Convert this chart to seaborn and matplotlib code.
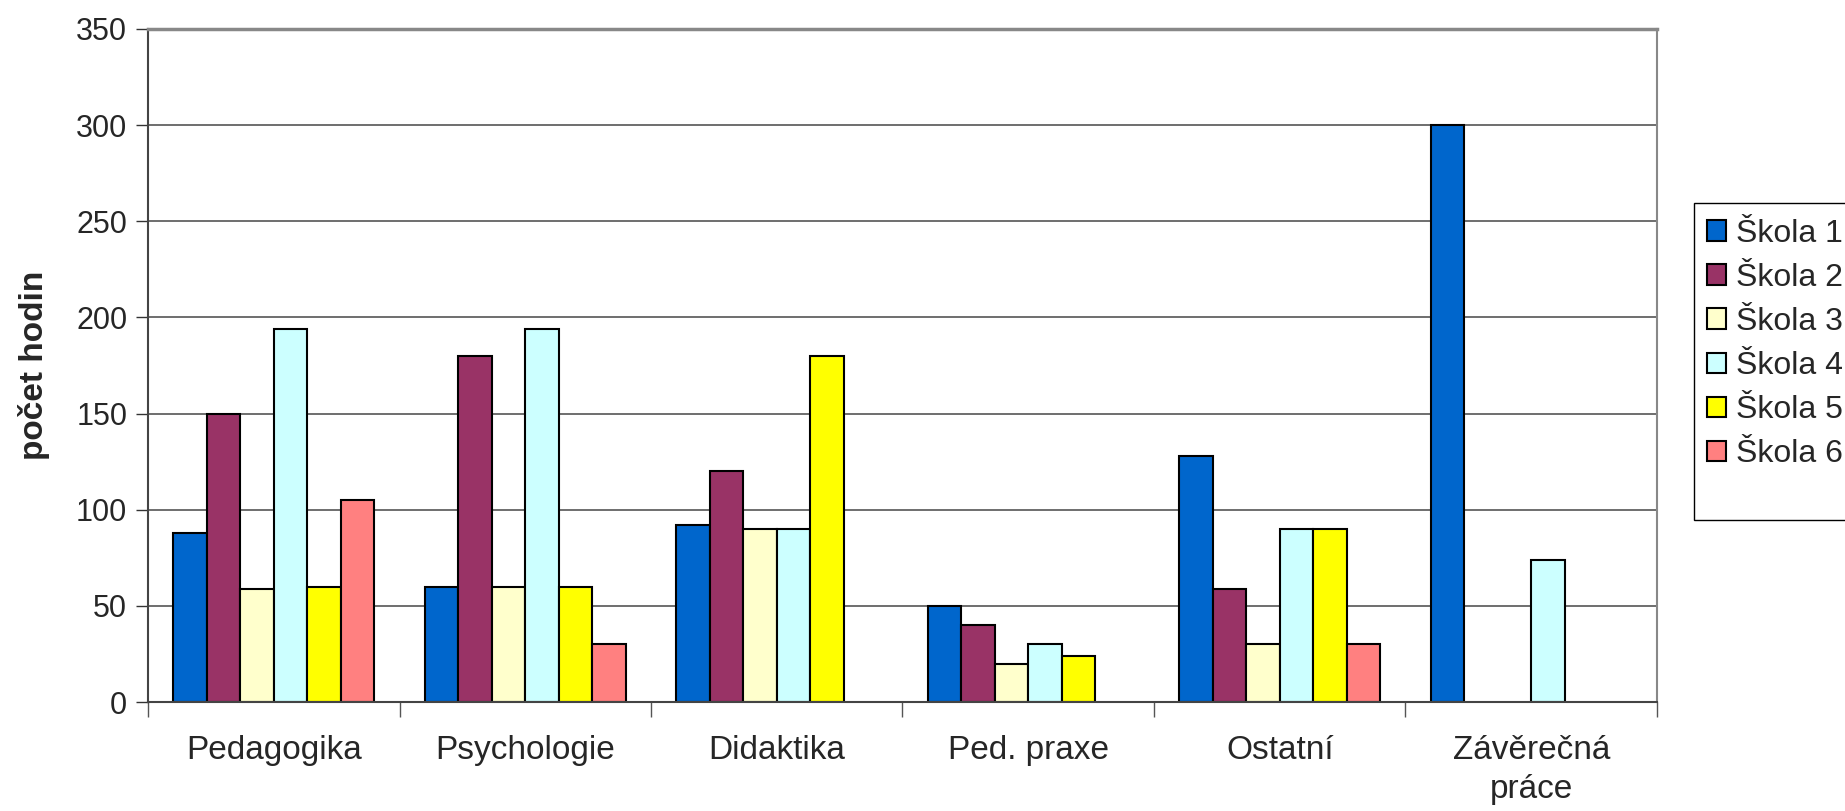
import numpy as np
import pandas as pd
import matplotlib
matplotlib.use("Agg")
import matplotlib.pyplot as plt
import seaborn as sns
from matplotlib.ticker import FixedLocator, MultipleLocator
from matplotlib.patches import Rectangle

categories = ["Pedagogika", "Psychologie", "Didaktika", "Ped. praxe", "Ostatní", "Závěrečná\npráce"]
schools = ["Škola 1", "Škola 2", "Škola 3", "Škola 4", "Škola 5", "Škola 6"]
skola1 = [88, 60, 92, 50, 128, 300]
skola2 = [150, 180, 120, 40, 59, np.nan]
skola3 = [59, 60, 90, 20, 30, np.nan]
skola4 = [194, 194, 90, 30, 90, 74]
skola5 = [60, 60, 180, 24, 90, np.nan]
skola6 = [105, 30, np.nan, np.nan, 30, np.nan]
colors = ["#0066CC", "#993366", "#FFFFCC", "#CCFFFF", "#FFFF00", "#FF8080"]

rows = []
for s, vals in zip(schools, [skola1, skola2, skola3, skola4, skola5, skola6]):
    for c, v in zip(categories, vals):
        rows.append({"kat": c, "skola": s, "hod": v})
df = pd.DataFrame(rows)

sns.set_style("white")
plt.rcParams["font.family"] = ["Liberation Sans", "DejaVu Sans"]

fig = plt.figure(figsize=(18.45, 8.11), dpi=100)
ax = fig.add_axes([148/1845, 1-702/811, (1657-148)/1845, (702-29)/811])

sns.barplot(data=df, x="kat", y="hod", hue="skola", order=categories, hue_order=schools,
            palette=colors, edgecolor="black", linewidth=1.5, width=0.8, errorbar=None,
            saturation=1, ax=ax, legend=True)

ax.set_ylim(0, 350)
ax.set_xlim(-0.5, len(categories) - 0.5)
ax.yaxis.set_major_locator(MultipleLocator(50))
ax.yaxis.grid(True, color="#555555", linewidth=1.2)
ax.set_axisbelow(True)
ax.set_xlabel("")
ax.set_ylabel("počet hodin", fontsize=24, fontweight="bold")
ax.yaxis.set_label_coords(-0.065, 0.50)

ax.tick_params(axis="y", labelsize=22, length=9, width=1, color="#333333", direction="out", pad=6, left=True)
ax.tick_params(axis="x", which="major", labelsize=24, length=0, pad=24)
for lab in ax.get_xticklabels():
    lab.set_linespacing(1.3)
ax.xaxis.set_minor_locator(FixedLocator(np.arange(-0.5, len(categories), 1.0)))
ax.tick_params(axis="x", which="minor", length=11, width=1, color="#555555", direction="out", bottom=True)

for side in ["top", "right", "left", "bottom"]:
    ax.spines[side].set_visible(True)
ax.spines["top"].set_color("#888888")
ax.spines["top"].set_linewidth(2.5)
ax.spines["right"].set_color("#888888")
ax.spines["right"].set_linewidth(1.5)
ax.spines["left"].set_color("#444444")
ax.spines["left"].set_linewidth(1.5)
ax.spines["bottom"].set_color("#444444")
ax.spines["bottom"].set_linewidth(1.5)

handles, labels = ax.get_legend_handles_labels()
ax.get_legend().remove()
fig.patches.append(Rectangle((1694/1845, 1-520/811), 0.2, (520-203)/811, transform=fig.transFigure,
                             facecolor="white", edgecolor="black", linewidth=1.0, zorder=0))
leg = fig.legend(handles, labels, loc="upper left", bbox_to_anchor=(1694/1845, 1-206/811),
                 bbox_transform=fig.transFigure, fontsize=23, frameon=False,
                 handlelength=0.6, handleheight=0.6, handletextpad=0.3,
                 labelspacing=0.44, borderpad=0.4, borderaxespad=0)

fig.savefig("out.png", dpi=100)
